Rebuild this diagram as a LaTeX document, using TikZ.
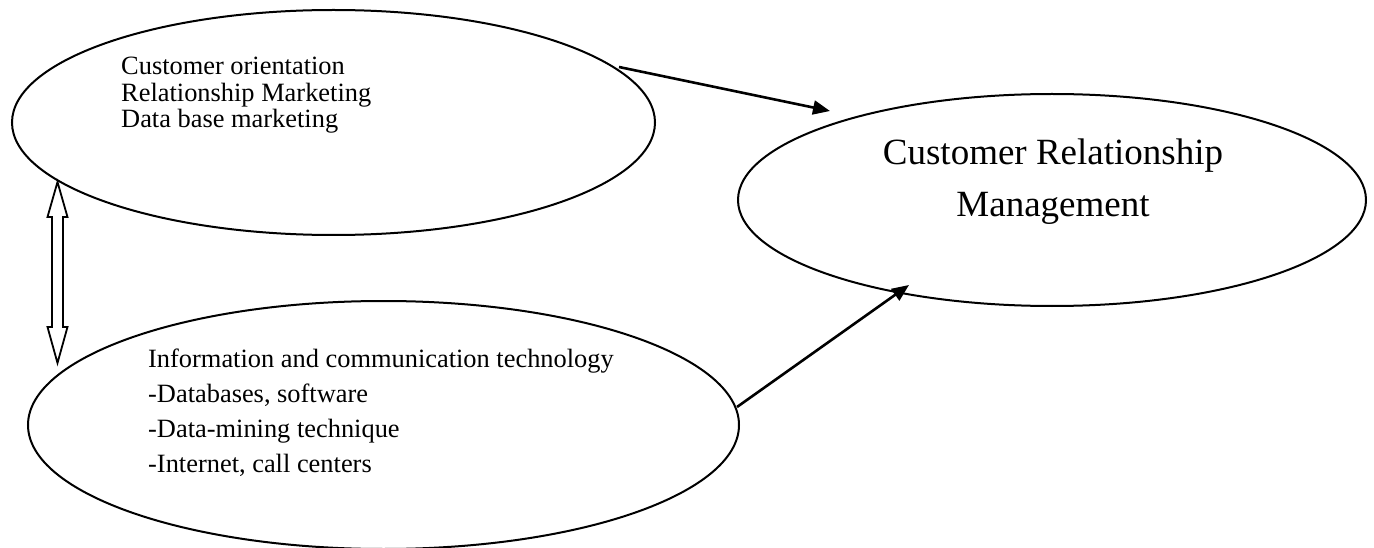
\documentclass[tikz,border=0pt]{standalone}
\usepackage{fontspec}
\setmainfont{Liberation Serif}
\usetikzlibrary{shapes.geometric,arrows.meta}
\begin{document}
\begin{tikzpicture}[x=1pt,y=-1pt,
  oval/.style={ellipse,draw,line width=2pt,inner sep=0pt},
  conn/.style={line width=2.6pt,-{Triangle[length=17pt,width=14pt]}},
  hollow/.style={draw,line width=1.8pt,line join=miter,fill=white},
  small/.style={inner sep=0pt,font=\fontsize{26.4}{26}\selectfont},
  smallb/.style={inner sep=0pt,font=\fontsize{26.4}{35.3}\selectfont},
  big/.style={inner sep=0pt,font=\fontsize{37}{52}\selectfont}]
\useasboundingbox (0,0) rectangle (1374,548);
% ellipses
\node[oval,minimum width=643pt,minimum height=225pt] (e1) at (333.5,122.5) {};
\node[oval,minimum width=711pt,minimum height=248pt] (e2) at (383.5,425) {};
\node[oval,minimum width=628pt,minimum height=212pt] (e3) at (1052,200) {};
% texts
\node[small,anchor=base west] (t1) at (121,75)
  {\begin{tabular}[t]{@{}l@{}}Customer orientation\\Relationship Marketing\\Data base marketing\end{tabular}};
\node[smallb,anchor=base west] (t2) at (148,367)
  {\begin{tabular}[t]{@{}l@{}}Information and communication technology\\-Databases, software\\-Data-mining technique\\-Internet, call centers\end{tabular}};
\node[big,anchor=base] (t3) at (1053,165)
  {\begin{tabular}[t]{@{}c@{}}Customer Relationship\\Management\end{tabular}};
% connectors
\coordinate (a1s) at (619,67);
\coordinate (a1e) at (830,111);
\coordinate (a2s) at (737,407);
\coordinate (a2e) at (909,285);
\draw[conn] (a1s) -- (a1e);
\draw[conn] (a2s) -- (a2e);
% hollow double arrow between e1 and e2
\coordinate (dt) at (57.5,182);
\coordinate (db) at (57.5,363);
\path[hollow] (dt) -- ++(10,35) -- ++(-4.5,0) -- ++(0,110) -- ++(4.5,0)
  -- (db) -- ++(-10,-36) -- ++(4.5,0) -- ++(0,-110) -- ++(-4.5,0) -- cycle;
\end{tikzpicture}
\end{document}
